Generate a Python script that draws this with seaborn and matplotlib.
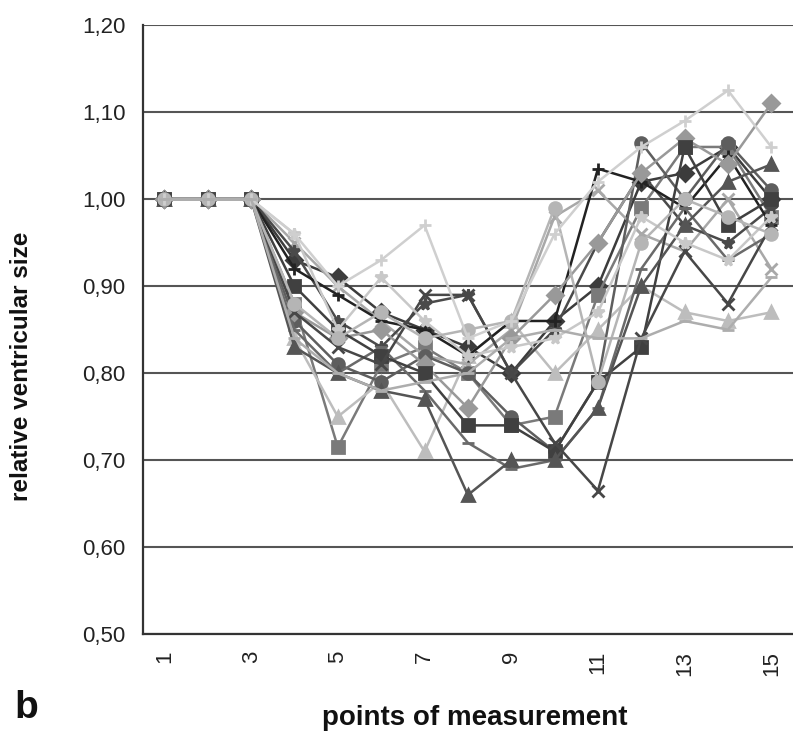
import matplotlib
matplotlib.use("Agg")
import matplotlib.pyplot as plt
import seaborn as sns
import numpy as np

points = list(range(1, 16))
start = [1.00, 1.00, 1.00]

# series values for points 4..15 (points 1-3 are all 1.00)
s01 = start + [0.93, 0.91, 0.87, 0.85, 0.83, 0.80, 0.86, 0.90, 1.02, 1.03, 1.06, 1.00]
s02 = start + [0.88, 0.715, 0.81, 0.83, 0.80, 0.74, 0.75, 0.89, 0.99, 1.06, 1.06, 0.98]
s03 = start + [0.84, 0.75, 0.79, 0.71, 0.82, 0.86, 0.80, 0.85, 0.90, 0.87, 0.86, 0.87]
s04 = start + [0.95, 0.90, 0.86, 0.82, 0.81, 0.85, 0.98, 1.01, 0.96, 0.94, 1.00, 0.92]
s05 = start + [0.94, 0.86, 0.83, 0.88, 0.89, 0.80, 0.85, 0.95, 1.03, 0.97, 0.95, 0.99]
s06 = start + [0.86, 0.81, 0.79, 0.82, 0.80, 0.75, 0.71, 0.79, 1.065, 1.00, 1.065, 1.01]
s07 = start + [0.92, 0.89, 0.86, 0.85, 0.82, 0.86, 0.86, 1.035, 1.02, 0.99, 1.05, 0.97]
s08 = start + [0.85, 0.80, 0.83, 0.78, 0.72, 0.69, 0.70, 0.76, 0.92, 0.99, 0.93, 0.96]
s09 = start + [0.87, 0.84, 0.85, 0.81, 0.76, 0.84, 0.89, 0.95, 1.03, 1.07, 1.04, 1.11]
s10 = start + [0.90, 0.85, 0.82, 0.80, 0.74, 0.74, 0.71, 0.79, 0.83, 1.06, 0.97, 1.00]
s11 = start + [0.83, 0.80, 0.78, 0.77, 0.66, 0.70, 0.70, 0.76, 0.90, 0.97, 1.02, 1.04]
s12 = start + [0.87, 0.83, 0.81, 0.89, 0.89, 0.80, 0.72, 0.665, 0.84, 0.94, 0.88, 0.97]
s13 = start + [0.96, 0.85, 0.91, 0.86, 0.82, 0.83, 0.84, 0.87, 0.98, 0.95, 0.93, 0.98]
s14 = start + [0.88, 0.84, 0.87, 0.84, 0.85, 0.86, 0.99, 0.79, 0.95, 1.00, 0.98, 0.96]
s15 = start + [0.96, 0.90, 0.93, 0.97, 0.84, 0.86, 0.96, 1.02, 1.06, 1.09, 1.125, 1.06]
s16 = start + [0.84, 0.80, 0.78, 0.79, 0.80, 0.84, 0.85, 0.84, 0.84, 0.86, 0.85, 0.91]

series = [s01, s02, s03, s04, s05, s06, s07, s08, s09, s10, s11, s12, s13, s14, s15, s16]
markers = ["D", "s", "^", "x", "*", "o", "+", "_", "D", "s", "^", "x", "*", "o", "+", "_"]
grays = ["#3c3c3c", "#7a7a7a", "#bdbdbd", "#a8a8a8", "#4a4a4a", "#5e5e5e", "#222222", "#6a6a6a",
         "#999999", "#404040", "#555555", "#474747", "#c8c8c8", "#b5b5b5", "#cfcfcf", "#adadad"]

sns.set_style("white")
plt.rcParams['font.family'] = ['Liberation Sans', 'DejaVu Sans']
fig = plt.figure(figsize=(7.93, 7.40), dpi=100)
ax = fig.add_axes([0.180, 0.143, 0.82, 0.823])

for vals, m, c in zip(series, markers, grays):
    sns.lineplot(x=points, y=vals, ax=ax, color=c, marker=m, markersize=8.5,
                 markeredgecolor=c, markeredgewidth=2, linewidth=1.8)

ax.set_xlim(0.5, 15.3)
ax.set_ylim(0.5, 1.2)
yt = np.arange(0.5, 1.21, 0.1)
ax.set_yticks(yt)
ax.set_yticklabels([f"{v:.2f}".replace(".", ",") for v in yt], fontsize=16, color="#222222")
ax.grid(axis="y", color="#555555", linewidth=1.5)
ax.set_axisbelow(True)

ax.set_xticks(np.arange(0.5, 15.6, 1.0))
ax.set_xticklabels([])
ax.set_xticks(list(range(1, 16, 2)), minor=True)
ax.set_xticklabels([str(v) for v in range(1, 16, 2)], minor=True, rotation=90, fontsize=16,
                   color="#222222")
ax.tick_params(axis="x", which="major", length=8, width=1.3, color="#333333", direction="out")
ax.tick_params(axis="x", which="minor", length=0, pad=12)
ax.tick_params(axis="y", length=9, width=1.3, color="#333333", direction="out")

for side in ["top", "right"]:
    ax.spines[side].set_visible(False)
for side in ["left", "bottom"]:
    ax.spines[side].set_color("#333333")
    ax.spines[side].set_linewidth(1.6)

ax.set_ylabel("relative ventricular size", fontsize=17.5, fontweight="bold", color="#111111",
              va="center")
ax.yaxis.set_label_coords(-0.186, 0.44)
ax.set_xlabel("points of measurement", fontsize=20, fontweight="bold", color="#111111",
              va="center")
ax.xaxis.set_label_coords(0.51, -0.138)
fig.text(0.018, 0.03, "b", fontsize=28, fontweight="bold", color="#111111")

fig.savefig("out.png", dpi=100)
